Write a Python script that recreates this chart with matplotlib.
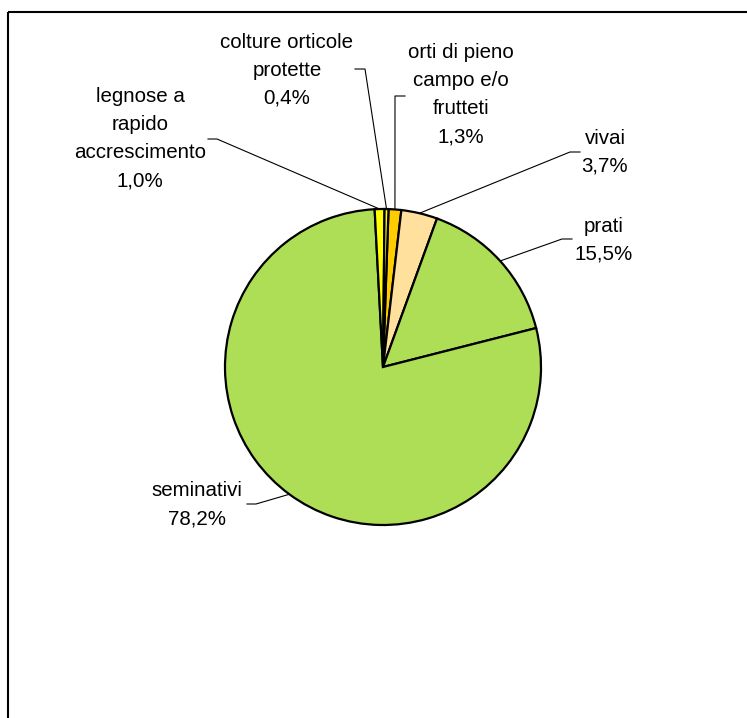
import matplotlib.pyplot as plt
import numpy as np

# land use shares (%), clockwise from the top of the pie
categories = ['orti di pieno\ncampo e/o\nfrutteti', 'vivai', 'prati', 'seminativi',
              'legnose a\nrapido\naccrescimento', 'colture orticole\nprotette']
shares = [1.3, 3.7, 15.5, 78.2, 1.0, 0.4]
colors = ['#FFCC00', '#FFE09C', '#AEDE55', '#AEDE55', '#FFFF00', '#FFFF00']

W, H = 747, 718

# label centre and leader line start/elbow, in pixels from the top-left corner
label_pos = [(461, 95), (605, 152), (604, 240), (197, 505), (140, 139), (287, 70)]
leader_pts = [((405, 96), (395, 96)),
              ((580, 152), (570, 152)),
              ((572, 239), (562, 239)),
              ((247, 504), (256, 504)),
              ((208, 139), (217, 139)),
              ((355, 69), (365, 69))]

fig = plt.figure(figsize=(W / 100, H / 100), dpi=100)
ax = fig.add_axes([0, 0, 1, 1])

cx, cy, r = 383, H - 367, 158
wedges, _ = ax.pie(shares, colors=colors, startangle=88, counterclock=False,
                   center=(cx, cy), radius=r,
                   wedgeprops=dict(edgecolor='black', linewidth=1.6))
ax.set_xlim(0, W)
ax.set_ylim(0, H)
ax.set_aspect('equal')
ax.axis('off')

for w, name, v, (lx, ly), (p0, p1) in zip(wedges, categories, shares, label_pos, leader_pts):
    pct = f'{v:.1f}%'.replace('.', ',')
    ax.text(lx, H - ly, f'{name}\n{pct}', ha='center', va='center',
            fontsize=14.8, family='Liberation Sans', linespacing=1.6)
    mid = np.deg2rad((w.theta1 + w.theta2) / 2)
    rx, ry = cx + r * np.cos(mid), cy + r * np.sin(mid)
    ax.plot([p0[0], p1[0], rx], [H - p0[1], H - p1[1], ry],
            color='black', lw=0.8, zorder=0)

# outer frame (top and left edges visible)
ax.plot([8, 8], [0, H - 12], color='black', lw=1.5, solid_capstyle='butt')
ax.plot([8, W], [H - 12, H - 12], color='black', lw=1.5, solid_capstyle='butt')

fig.savefig('out.png', dpi=100)
